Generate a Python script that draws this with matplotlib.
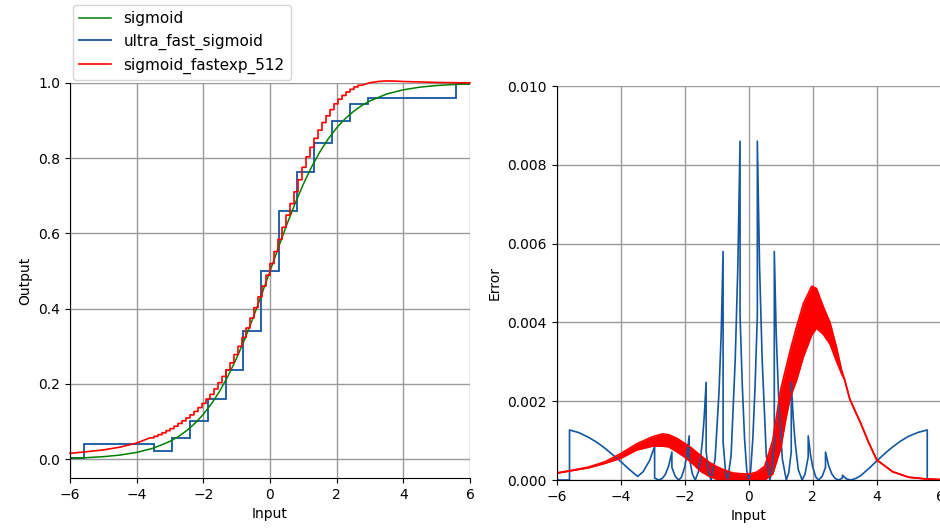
#!/usr/bin/env python3
"""
Sigmoid approximations: output curves and squared error against the exact sigmoid
"""

import numpy as np
import matplotlib
matplotlib.use("Agg")
import matplotlib.pyplot as plt

# --- data ------------------------------------------------------------------

# exact sigmoid (green)
sig_x = [-6, -5.5, -5, -4.5, -4, -3.5, -3, -2.75, -2.5, -2.25, -2, -1.75, -1.5,
         -1.25, -1, -0.75, -0.5, -0.25, 0, 0.25, 0.5, 0.75, 1, 1.25, 1.5, 1.75,
         2, 2.25, 2.5, 2.75, 3, 3.5, 4, 4.5, 5, 5.5, 6]
sig_y = [0.0025, 0.0041, 0.0067, 0.0110, 0.0180, 0.0293, 0.0474, 0.0601, 0.0759,
         0.0954, 0.1192, 0.1480, 0.1824, 0.2227, 0.2689, 0.3208, 0.3775, 0.4378,
         0.5, 0.5622, 0.6225, 0.6792, 0.7311, 0.7773, 0.8176, 0.8520, 0.8808,
         0.9046, 0.9241, 0.9399, 0.9526, 0.9707, 0.9820, 0.9890, 0.9933, 0.9959,
         0.9975]

# ultra_fast_sigmoid (blue) step edges and levels
ufs_edges = [-6, -5.58, -3.47, -2.93, -2.39, -1.86, -1.33, -0.80, -0.26, 0.26,
             0.80, 1.33, 1.86, 2.39, 2.93, 5.58, 6]
ufs_levels = [0.003, 0.041, 0.021, 0.057, 0.101, 0.159, 0.236, 0.341, 0.500,
              0.659, 0.764, 0.841, 0.899, 0.944, 0.960, 0.998]

# sigmoid_fastexp_512 (red): smooth tails plus a staircase in the middle
red_left_x = [-6, -5.5, -5, -4.5, -4, -3.6]
red_left_y = [0.0155, 0.0199, 0.0247, 0.032, 0.043, 0.0568]
red_step_start = -3.6
red_step_width = 0.12
red_step_y = [0.0568, 0.0607, 0.0651, 0.0699, 0.0758, 0.0812, 0.0877, 0.0950,
              0.1019, 0.1097, 0.1179, 0.1270, 0.1371, 0.1483, 0.1597, 0.1723,
              0.1867, 0.2034, 0.2200, 0.2374, 0.2562, 0.2780, 0.3001, 0.3238,
              0.3487, 0.3752, 0.4030, 0.4316, 0.4601, 0.4890, 0.5200, 0.5519,
              0.5844, 0.6165, 0.6488, 0.6793, 0.7107, 0.7429, 0.7760, 0.8037,
              0.8290, 0.8530, 0.8746, 0.8948, 0.9127, 0.9293, 0.9447, 0.9569,
              0.9670, 0.9761, 0.9833, 0.9895, 0.9940]
red_right_x = [2.76, 3.0, 3.25, 3.5, 3.75, 4.0, 4.5, 5.0, 5.5, 6.0]
red_right_y = [0.9940, 1.0010, 1.0040, 1.0055, 1.0050, 1.0040, 1.0028, 1.0015,
               1.0008, 1.0003]

# squared error of ultra_fast_sigmoid (units of 1e-3)
ufs_err_x = [-6.0, -5.6, -5.6, -5.3, -5.0, -4.75, -4.5, -4.25, -4.0, -3.75, -3.47,
             -3.3, -3.1, -2.94, -2.94, -2.81, -2.7, -2.6, -2.5, -2.4,
             -2.4, -2.3, -2.19, -2.1, -2.0, -1.93, -1.86,
             -1.86, -1.76, -1.67, -1.55, -1.45, -1.39, -1.33,
             -1.33, -1.25, -1.175, -1.05, -0.93, -0.86, -0.8,
             -0.8, -0.72, -0.66, -0.55, -0.42, -0.34, -0.27,
             -0.27, -0.2, -0.13, -0.06, 0.0, 0.06, 0.13, 0.2, 0.27,
             0.27, 0.34, 0.42, 0.55, 0.66, 0.72, 0.8,
             0.8, 0.86, 0.93, 1.05, 1.175, 1.25, 1.33,
             1.33, 1.39, 1.45, 1.55, 1.67, 1.76, 1.86,
             1.86, 1.93, 2.0, 2.1, 2.19, 2.3, 2.4,
             2.4, 2.5, 2.6, 2.7, 2.81, 2.93,
             2.93, 3.05, 3.18, 3.35, 3.5, 3.75, 4.0, 4.25, 4.5, 4.75, 5.0, 5.3,
             5.58, 5.58, 6.0]
ufs_err_y = [0.0, 0.0, 1.27, 1.2, 1.08, 0.96, 0.81, 0.64, 0.47, 0.28, 0.09,
             0.21, 0.49, 0.85, 0.05, 0.0, 0.04, 0.15, 0.36, 0.71,
             0.32, 0.10, 0.0, 0.07, 0.33, 0.65, 1.12,
             0.59, 0.15, 0.0, 0.26, 0.96, 1.6, 2.48,
             0.72, 0.18, 0.0, 0.54, 2.2, 3.7, 5.8,
             0.96, 0.18, 0.0, 0.62, 3.08, 5.4, 8.6,
             4.17, 2.4, 1.06, 0.23, 0.0, 0.23, 1.06, 2.4, 4.17,
             8.6, 5.4, 3.08, 0.62, 0.0, 0.18, 0.96,
             5.8, 3.7, 2.2, 0.54, 0.0, 0.18, 0.72,
             2.48, 1.6, 0.96, 0.26, 0.0, 0.15, 0.59,
             1.12, 0.65, 0.33, 0.07, 0.0, 0.10, 0.32,
             0.71, 0.36, 0.15, 0.04, 0.0, 0.05,
             0.12, 0.03, 0.0, 0.04, 0.11, 0.29, 0.48, 0.67, 0.84, 0.99, 1.11, 1.21,
             1.27, 0.0, 0.0]

# squared error of sigmoid_fastexp_512: envelope of the fast ripple (1e-3)
fexp_err_x = [-6.0, -5.5, -5.0, -4.5, -4.0, -3.5, -3.0, -2.7, -2.5, -2.25, -2.0,
              -1.8, -1.5, -1.25, -1.0, -0.75, -0.5, -0.25, 0.0, 0.25, 0.5, 0.75,
              1.0, 1.15, 1.3, 1.5, 1.71, 1.97, 2.12, 2.33, 2.54, 2.75, 2.9, 3.0,
              3.16, 3.5, 3.75, 4.0, 4.5, 5.0, 5.5, 6.0]
fexp_err_hi = [0.18, 0.25, 0.33, 0.46, 0.67, 0.92, 1.10, 1.17, 1.15, 1.06, 0.93,
               0.82, 0.62, 0.46, 0.34, 0.25, 0.18, 0.16, 0.15, 0.2, 0.35, 1.0,
               2.3, 2.8, 3.3, 3.9, 4.48, 4.92, 4.86, 4.4, 4.0, 3.35, 2.8,
               2.54, 2.05, 1.44, 0.95, 0.51, 0.21, 0.07, 0.03, 0.01]
fexp_err_lo = [0.17, 0.24, 0.31, 0.42, 0.55, 0.76, 0.86, 0.86, 0.84, 0.72, 0.58,
               0.45, 0.22, 0.10, 0.02, 0.0, 0.0, 0.0, 0.0, 0.0, 0.0, 0.15,
               0.8, 1.5, 2.1, 2.54, 3.13, 3.68, 3.85, 3.7, 3.45, 3.0, 2.7,
               2.54, 2.05, 1.44, 0.95, 0.51, 0.21, 0.07, 0.03, 0.01]

x_ticks = [-6, -4, -2, 0, 2, 4, 6]

GREEN = "green"
BLUE = "#1456a0"
RED = "red"


def style_axes(ax):
    """Grid and spines like the reference"""
    ax.grid(True, color="#9a9a9a", linewidth=1.0)
    ax.set_axisbelow(True)
    ax.spines["top"].set_visible(False)
    ax.spines["right"].set_visible(False)
    ax.set_xlim(-6, 6)
    ax.set_xticks(x_ticks)


def red_staircase():
    """Join the smooth tails and the staircase into one path"""
    n = len(red_step_y)
    edges = red_step_start + red_step_width * np.arange(n + 1)
    sx = np.repeat(edges, 2)[1:-1]
    sy = np.repeat(red_step_y, 2)
    xs = np.concatenate([red_left_x, sx, red_right_x])
    ys = np.concatenate([red_left_y, sy, red_right_y])
    return xs, ys


def main():
    fig = plt.figure(figsize=(9.4, 5.29), dpi=100)
    ax1 = fig.add_axes([70 / 940, 51 / 529, 400 / 940, 395 / 529])
    ax2 = fig.add_axes([556.7 / 940, 49 / 529, 384 / 940, 394 / 529])

    # Output curves
    style_axes(ax1)
    ax1.plot(sig_x, sig_y, color=GREEN, lw=1.1, label="sigmoid")
    ax1.stairs(ufs_levels, ufs_edges, baseline=None, color=BLUE, lw=1.3,
               label="ultra_fast_sigmoid")
    rx, ry = red_staircase()
    ax1.plot(rx, ry, color=RED, lw=1.2, label="sigmoid_fastexp_512",
             clip_on=False)
    ax1.set_ylim(-0.05, 1.0)
    ax1.set_yticks([0.0, 0.2, 0.4, 0.6, 0.8, 1.0])
    ax1.set_xlabel("Input")
    ax1.set_ylabel("Output")
    ax1.legend(loc="lower left", bbox_to_anchor=(0, 1.0), borderaxespad=0.2,
               fontsize=11, handlelength=2.1)

    # Squared errors
    style_axes(ax2)
    ax2.plot(ufs_err_x, np.array(ufs_err_y) * 1e-3, color=BLUE, lw=1.2)
    lo = np.array(fexp_err_lo) * 1e-3
    hi = np.array(fexp_err_hi) * 1e-3
    ax2.fill_between(fexp_err_x, lo, hi, color=RED, lw=0)
    ax2.plot(fexp_err_x, hi, color=RED, lw=1.2)
    ax2.plot(fexp_err_x, lo, color=RED, lw=1.2)
    ax2.set_ylim(0, 0.010)
    ax2.set_yticks([0.0, 0.002, 0.004, 0.006, 0.008, 0.010])
    ax2.set_xlabel("Input")
    ax2.set_ylabel("Error")

    fig.savefig("out.png", dpi=100)


if __name__ == "__main__":
    main()
